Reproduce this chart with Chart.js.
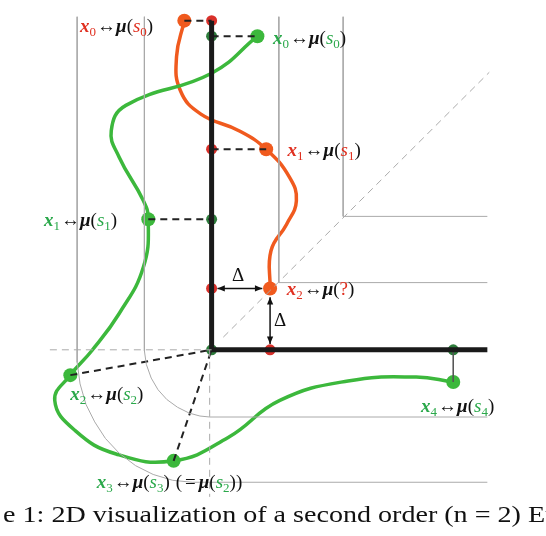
<!DOCTYPE html>
<html>
<head>
<meta charset="utf-8">
<script src="https://cdn.jsdelivr.net/npm/chart.js@4"></script>
<style>body{margin:0;background:#fff}</style>
</head>
<body>
<canvas id="grafico" width="546" height="536"></canvas>
<script>
// coordenadas (unidades de píxel de la imagen)
const curvaVerde = [[257,30],[210,68],[122,101],[107,127],[115,154],[140,199],[145,218],[140,267],[115,315],[87,353],[65,378],[49,404],[70,435],[112,459],[171,466],[227,442],[280,404],[350,384],[420,380],[458,385]];
const curvaNaranja = [[182,14],[174,51],[178,86],[199,110],[238,127],[266,146],[290,175],[297,199],[287,223],[271,250],[270,289]];
const puntosVerdes = [[257,30],[145,218],[65,378],[171,466],[458,385]];
const puntosNaranjas = [[182,14],[266,146],[270,289]];
const ejeVerdes = [[210,30],[210,218],[210,352],[458,352]];
const ejeRojos = [[210,14],[210,146],[210,289],[270,352]];
const ejeNegro = [[210,14],[210,352],[493,352]];
const guiasGrises = [
  [[279,10],[279,283],[493,283]],
  [[345,10],[345,215],[493,215]],
  [[141,10],[141,353],[143,367],[148,381],[155,393],[164,403],[175,411],[187,417],[198,420],[208,421],[493,421]],
  [[72,10],[72,365],[75,387],[81,408],[90,426],[101,443],[115,458],[132,471],[150,480],[170,486],[190,488],[208,488],[493,488]]
];
const guiasPunteadas = [
  [[222,339],[495,67]],
  [[44,352],[210,352]],
  [[208,352],[208,503]]
];
const proyecciones = [
  [[182,14],[210,14]], [[210,30],[257,30]], [[210,146],[266,146]], [[145,218],[210,218]],
  [[65,378],[210,352]], [[171,466],[210,352]]
];
const rojo = "#e03020", verde = "#2aa84a";

const pts = a => a.map(p => ({x: p[0], y: p[1]}));
const datasets = [];
guiasGrises.forEach(g => datasets.push({data: pts(g), borderColor: "#aaa", borderWidth: 1, pointRadius: 0, tension: 0, showLine: true}));
guiasPunteadas.forEach(g => datasets.push({data: pts(g), borderColor: "#aaa", borderWidth: 1, borderDash: [7, 5], pointRadius: 0, showLine: true}));
datasets.push({data: pts(ejeNegro), borderColor: "#1a1a1a", borderWidth: 5, pointRadius: 0, showLine: true});
proyecciones.forEach(g => datasets.push({data: pts(g), borderColor: "#222", borderWidth: 2, borderDash: [7, 5], pointRadius: 0, showLine: true}));
datasets.push({data: [{x:458,y:352},{x:458,y:385}], borderColor: "#555", borderWidth: 1, pointRadius: 0, showLine: true});
datasets.push({data: pts(curvaVerde), borderColor: "#3cb83c", borderWidth: 3.5, pointRadius: 0, tension: 0.45, showLine: true});
datasets.push({data: pts(curvaNaranja), borderColor: "#f05a1e", borderWidth: 3.5, pointRadius: 0, tension: 0.45, showLine: true});
datasets.push({data: pts(puntosVerdes), backgroundColor: "#3cb83c", pointRadius: 7, borderWidth: 0, showLine: false});
datasets.push({data: pts(puntosNaranjas), backgroundColor: "#f05a1e", pointRadius: 7, borderWidth: 0, showLine: false});
datasets.push({data: pts(ejeVerdes), backgroundColor: "#2e7d3c", pointRadius: 5.5, borderWidth: 0, showLine: false});
datasets.push({data: pts(ejeRojos), backgroundColor: "#d9302a", pointRadius: 5.5, borderWidth: 0, showLine: false});

// etiquetas: [x, y, color de x_i, indice, contenido del paréntesis, color del paréntesis, extra]
const etiquetas = [
  [75, 26, rojo, "0", "s0", rojo, ""],
  [273, 38, verde, "0", "s0", verde, ""],
  [288, 153, rojo, "1", "s1", rojo, ""],
  [38, 225, verde, "1", "s1", verde, ""],
  [287, 296, rojo, "2", "?", rojo, ""],
  [65, 404, verde, "2", "s2", verde, ""],
  [425, 416, verde, "4", "s4", verde, ""],
  [92, 494, verde, "3", "s3", verde, "="]
];
const leyenda = "e 1: 2D visualization of a second order (n = 2) Eu";

function texto(ctx, x, y, s, font, color) {
  ctx.font = font; ctx.fillStyle = color; ctx.fillText(s, x, y);
  return x + ctx.measureText(s).width;
}
function etiqueta(ctx, x, y, cx, i, arg, ca, extra) {
  const bi = "italic bold 19px 'Liberation Serif'", n = "19px 'Liberation Serif'", it = "italic 19px 'Liberation Serif'", sub = "13px 'Liberation Serif'";
  x = texto(ctx, x, y, "x", bi, cx);
  x = texto(ctx, x, y + 4, i, sub, cx) + 1;
  x = texto(ctx, x, y, "↔", n, "#111");
  x = texto(ctx, x, y, "μ", bi, "#111");
  x = texto(ctx, x, y, "(", n, "#111");
  if (arg === "?") x = texto(ctx, x, y, "?", n, ca);
  else { x = texto(ctx, x, y, arg[0], it, ca); x = texto(ctx, x, y + 4, arg[1], sub, ca); }
  x = texto(ctx, x, y, ")", n, "#111");
  if (extra) {
    x = texto(ctx, x + 6, y, "(", n, "#111");
    x = texto(ctx, x + 3, y, "=", n, "#111");
    x = texto(ctx, x + 3, y, "μ", bi, "#111");
    x = texto(ctx, x, y, "(", n, "#111");
    x = texto(ctx, x, y, "s", it, verde);
    x = texto(ctx, x, y + 4, "2", sub, verde);
    texto(ctx, x, y, "))", n, "#111");
  }
}
function flecha(ctx, x1, y1, x2, y2) {
  const a = Math.atan2(y2 - y1, x2 - x1);
  ctx.strokeStyle = "#111"; ctx.fillStyle = "#111"; ctx.lineWidth = 1.5;
  ctx.beginPath(); ctx.moveTo(x1, y1); ctx.lineTo(x2, y2); ctx.stroke();
  [[x1, y1, a + Math.PI], [x2, y2, a]].forEach(([x, y, b]) => {
    ctx.beginPath(); ctx.moveTo(x, y);
    ctx.lineTo(x - 8 * Math.cos(b - 0.4), y - 8 * Math.sin(b - 0.4));
    ctx.lineTo(x - 8 * Math.cos(b + 0.4), y - 8 * Math.sin(b + 0.4));
    ctx.fill();
  });
}

const anotaciones = {
  id: "anotaciones",
  afterDatasetsDraw(chart) {
    const ctx = chart.ctx, sx = chart.scales.x, sy = chart.scales.y;
    const P = (x, y) => [sx.getPixelForValue(x), sy.getPixelForValue(y)];
    ctx.save();
    let [a, b] = P(216, 289), [c, d] = P(262, 289);
    flecha(ctx, a, b, c, d);
    [a, b] = P(270, 298); [c, d] = P(270, 346);
    flecha(ctx, a, b, c, d);
    ctx.font = "19px 'Liberation Serif'"; ctx.fillStyle = "#111";
    ctx.fillText("Δ", ...P(231, 281));
    ctx.fillText("Δ", ...P(274, 328));
    etiquetas.forEach(e => { const [x, y] = P(e[0], e[1]); etiqueta(ctx, x, y, e[2], e[3], e[4], e[5], e[6]); });
    ctx.font = "23px 'Liberation Serif'"; ctx.fillStyle = "#111";
    const w = ctx.measureText(leyenda).width;
    const [lx, ly] = P(-4, 529);
    ctx.translate(lx, ly); ctx.scale(556 / w, 1);
    ctx.fillText(leyenda, 0, 0);
    ctx.restore();
  }
};

new Chart(document.getElementById("grafico"), {
  type: "scatter",
  data: { datasets },
  options: {
    responsive: false, animation: false,
    layout: { padding: 0 },
    plugins: { legend: { display: false }, tooltip: { enabled: false } },
    scales: {
      x: { type: "linear", min: 0, max: 546, display: false },
      y: { type: "linear", min: 0, max: 536, reverse: true, display: false }
    }
  },
  plugins: [anotaciones]
});
</script>
</body>
</html>
